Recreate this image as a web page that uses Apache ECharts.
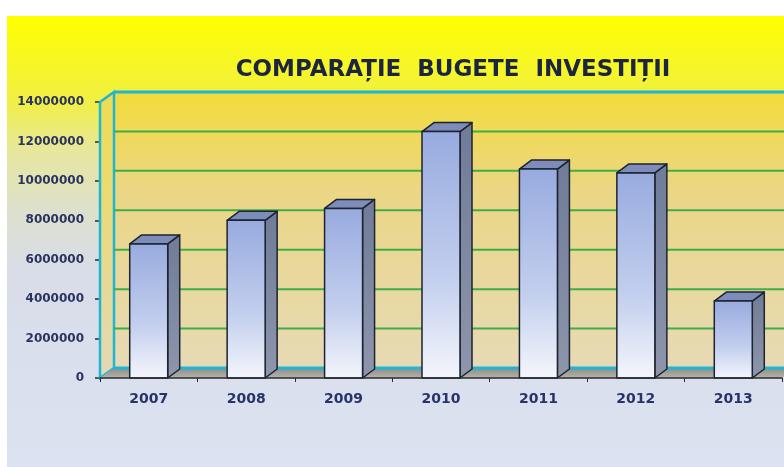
<!DOCTYPE html>
<html>
<head>
<meta charset="utf-8">
<title>Comparatie bugete investitii</title>
<script src="https://cdn.jsdelivr.net/npm/echarts@6/dist/echarts.min.js"></script>
<style>
  html, body { margin: 0; padding: 0; background: #fff; }
  #chart { width: 784px; height: 467px; }
</style>
</head>
<body>
<div id="chart"></div>
<script>
    var years = ['2007', '2008', '2009', '2010', '2011', '2012', '2013'];
    var budgets = [6800000, 8000000, 8600000, 12500000, 10600000, 10400000, 3900000];
    var yTicks = [0, 2000000, 4000000, 6000000, 8000000, 10000000, 12000000, 14000000];
    var titleText = 'COMPARAȚIE  BUGETE  INVESTIȚII';

    var yMax = yTicks[yTicks.length - 1];
    var wallDx = 14, wallDy = -10;   // depth of the back wall
    var barDx = 12, barDy = -9;      // depth of each bar
    var cyan = '#1fb6d6';
    var green = '#3dae4a';

    function renderWalls(params, api) {
        var cs = params.coordSys;
        var left = cs.x, right = cs.x + cs.width;
        var yTop = api.coord([0, yMax])[1];
        var yBot = api.coord([0, 0])[1];
        var kids = [];

        // back wall
        kids.push({
            type: 'rect',
            shape: { x: left + wallDx, y: yTop + wallDy, width: right - left, height: yBot - yTop },
            style: {
                fill: new echarts.graphic.LinearGradient(0, 0, 0, 1, [
                    { offset: 0, color: '#f2dc3a' },
                    { offset: 0.35, color: '#ebd684' },
                    { offset: 1, color: '#e6dab6' }
                ])
            }
        });
        // left wall
        kids.push({
            type: 'polygon',
            shape: { points: [[left, yTop], [left + wallDx, yTop + wallDy], [left + wallDx, yBot + wallDy], [left, yBot]] },
            style: {
                fill: new echarts.graphic.LinearGradient(0, 0, 0, 1, [
                    { offset: 0, color: '#eedc50' },
                    { offset: 1, color: '#e2d8b8' }
                ]),
                stroke: cyan, lineWidth: 2.5
            }
        });
        // floor
        kids.push({
            type: 'polygon',
            shape: { points: [[left, yBot], [left + wallDx, yBot + wallDy], [right + wallDx, yBot + wallDy], [right, yBot]] },
            style: {
                fill: new echarts.graphic.LinearGradient(0, 0, 0, 1, [
                    { offset: 0, color: '#8d8d88' },
                    { offset: 1, color: '#b4b2aa' }
                ])
            }
        });
        // grid lines on the back wall
        yTicks.forEach(function (v) {
            var y = api.coord([0, v])[1] + wallDy;
            var edge = (v === 0 || v === yMax);
            kids.push({
                type: 'line',
                shape: { x1: left + wallDx, y1: y, x2: right + wallDx, y2: y },
                style: { stroke: edge ? cyan : green, lineWidth: edge ? 3 : 2 }
            });
        });
        return { type: 'group', children: kids };
    }

    function renderBar(params, api) {
        var i = api.value(0);
        var v = api.value(1);
        var base = api.coord([i, 0]);
        var top = api.coord([i, v]);
        var w = api.size([1, 0])[0] * 0.39;
        var x0 = base[0] - w / 2, x1 = base[0] + w / 2;
        var yT = top[1], yB = base[1];
        var line = { stroke: '#1d2330', lineWidth: 1.5, lineJoin: 'round' };

        return {
            type: 'group',
            children: [
                {
                    type: 'polygon',
                    shape: { points: [[x1, yT], [x1 + barDx, yT + barDy], [x1 + barDx, yB + barDy], [x1, yB]] },
                    style: Object.assign({
                        fill: new echarts.graphic.LinearGradient(0, 0, 0, 1, [
                            { offset: 0, color: '#6f7b98' },
                            { offset: 1, color: '#8e96ac' }
                        ])
                    }, line)
                },
                {
                    type: 'polygon',
                    shape: { points: [[x0, yT], [x0 + barDx, yT + barDy], [x1 + barDx, yT + barDy], [x1, yT]] },
                    style: Object.assign({ fill: '#7d8cb8' }, line)
                },
                {
                    type: 'rect',
                    shape: { x: x0, y: yT, width: w, height: yB - yT },
                    style: Object.assign({
                        fill: new echarts.graphic.LinearGradient(0, 0, 0, 1, [
                            { offset: 0, color: '#98abdf' },
                            { offset: 0.6, color: '#c3cfee' },
                            { offset: 1, color: '#f4f6fc' }
                        ])
                    }, line)
                }
            ]
        };
    }

    var chart = echarts.init(document.getElementById('chart'));

    var option = {
        backgroundColor: '#ffffff',
        animation: false,
        graphic: [{
            type: 'rect',
            left: 7, top: 16,
            shape: { width: 777, height: 451 },
            style: {
                fill: new echarts.graphic.LinearGradient(0, 0, 0, 1, [
                    { offset: 0, color: '#ffff00' },
                    { offset: 0.19, color: '#f0ef44' },
                    { offset: 0.3, color: '#e7e79e' },
                    { offset: 0.43, color: '#dde0cc' },
                    { offset: 0.56, color: '#d8dde8' },
                    { offset: 1, color: '#dbe2f1' }
                ])
            },
            z: -10
        }],
        title: {
            text: titleText,
            left: 448,
            top: 54,
            textAlign: 'center',
            textStyle: {
                fontFamily: 'DejaVu Sans',
                fontWeight: 'bold',
                fontSize: 23,
                color: '#1c2540'
            }
        },
        grid: {
            left: 100,
            right: 2,
            top: 102,
            bottom: 89,
            containLabel: false
        },
        xAxis: {
            type: 'category',
            data: years,
            axisLine: { lineStyle: { color: '#2b2b2b', width: 1.5 } },
            axisTick: { show: true, length: 4, lineStyle: { color: '#2b2b2b' } },
            axisLabel: {
                margin: 14,
                fontFamily: 'DejaVu Sans',
                fontWeight: 'bold',
                fontSize: 14,
                color: '#27346a'
            },
            z: 5
        },
        yAxis: {
            type: 'value',
            min: 0,
            max: yMax,
            interval: 2000000,
            axisLine: { show: false },
            axisTick: { show: true, length: 5, lineStyle: { color: '#2b2b2b', width: 1.5 } },
            splitLine: { show: false },
            axisLabel: {
                margin: 16,
                fontFamily: 'DejaVu Sans',
                fontWeight: 'bold',
                fontSize: 12,
                color: '#2a3360',
                formatter: function (v) { return String(v); }
            }
        },
        series: [
            {
                type: 'custom',
                name: 'walls',
                data: [[0, 0]],
                renderItem: renderWalls,
                silent: true,
                z: 1
            },
            {
                type: 'custom',
                name: 'Buget',
                data: budgets.map(function (v, i) { return [i, v]; }),
                renderItem: renderBar,
                encode: { x: 0, y: 1 },
                z: 3
            }
        ]
    };

    chart.setOption(option);
</script>
</body>
</html>
